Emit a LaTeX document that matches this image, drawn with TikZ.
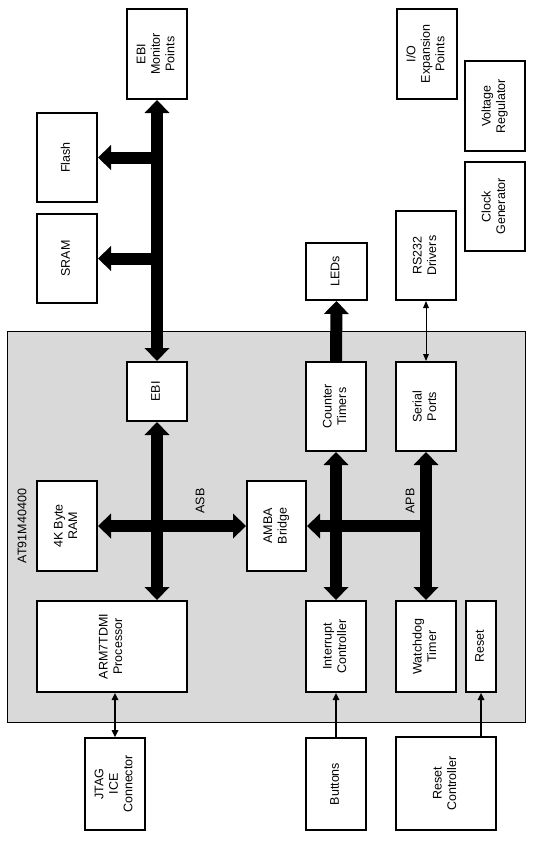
\documentclass[tikz,border=0pt]{standalone}
\usepackage{fontspec}
\setmainfont{Liberation Sans}
\usetikzlibrary{arrows.meta}
\newcommand{\vtext}[1]{\rotatebox{90}{\begin{tabular}{@{}c@{}}#1\end{tabular}}}
\begin{document}
\begin{tikzpicture}%
	[x=1pt, y=-1pt,
	every node/.style={font=\fontsize{12.5}{14.5}\selectfont},
	box/.style={draw=black, line width=2pt, fill=white, inner sep=0pt},
	chip/.style={draw=black, line width=0.8pt, fill=black!15, inner sep=0pt},
	bus/.style={line width=12pt, >={Triangle[width=25pt,length=13pt,line width=0pt]}},
	wire/.style={line width=1.8pt, >={Triangle[width=7pt,length=7pt,line width=0pt]}},
	thinwire/.style={line width=1pt, >={Triangle[width=6pt,length=7pt,line width=0pt]}},
	buslabel/.style={rotate=90, inner sep=0pt}]
\useasboundingbox (0,0) rectangle (535,841);
%%
%% the chip
%%
\node[chip, minimum width=518, minimum height=391] (chip) at (266,526.5) {};
\node[buslabel] (chipname) at (22,526) {AT91M40400};
%%
%% blocks outside the chip
%%
\node[box, minimum width=60, minimum height=90] (monitor) at (157,54) {\vtext{EBI\\Monitor\\Points}};
\node[box, minimum width=60, minimum height=89] (flash) at (67,157.5) {\vtext{Flash}};
\node[box, minimum width=60, minimum height=89] (sram) at (67,258.5) {\vtext{SRAM}};
\node[box, minimum width=60, minimum height=90] (io) at (427,54) {\vtext{I/O\\Expansion\\Points}};
\node[box, minimum width=60, minimum height=90] (volt) at (495,106) {\vtext{Voltage\\Regulator}};
\node[box, minimum width=60, minimum height=89] (clock) at (495,206.5) {\vtext{Clock\\Generator}};
\node[box, minimum width=60, minimum height=89] (rs232) at (426,255.5) {\vtext{RS232\\Drivers}};
\node[box, minimum width=61, minimum height=57] (leds) at (336.5,271.5) {\vtext{LEDs}};
\node[box, minimum width=60, minimum height=92] (jtag) at (115,784) {\vtext{JTAG\\ICE\\Connector}};
\node[box, minimum width=60, minimum height=92] (buttons) at (336,784) {\vtext{Buttons}};
\node[box, minimum width=100, minimum height=93] (resetctl) at (446,783.5) {\vtext{Reset\\Controller}};
%%
%% blocks inside the chip
%%
\node[box, minimum width=60, minimum height=59] (ebi) at (157,391.5) {\vtext{EBI}};
\node[box, minimum width=60, minimum height=89] (counter) at (336,406.5) {\vtext{Counter\\Timers}};
\node[box, minimum width=60, minimum height=89] (serial) at (426,406.5) {\vtext{Serial\\Ports}};
\node[box, minimum width=60, minimum height=90] (ram) at (67,526) {\vtext{4K Byte\\RAM}};
\node[box, minimum width=59, minimum height=90] (amba) at (276.5,526) {\vtext{AMBA\\Bridge}};
\node[box, minimum width=150, minimum height=91] (arm) at (112,646.5) {\vtext{ARM7TDMI\\Processor}};
\node[box, minimum width=60, minimum height=91] (intc) at (336,646.5) {\vtext{Interrupt\\Controller}};
\node[box, minimum width=60, minimum height=91] (wdog) at (426,646.5) {\vtext{Watchdog\\Timer}};
\node[box, minimum width=30, minimum height=91] (reset) at (481,646.5) {\vtext{Reset}};
%%
%% busses
%%
\draw[bus,<->] (ebi.north) -- (monitor.south);
\draw[bus,->] (ebi.north |- flash.east) -- (flash.east);
\draw[bus,->] (ebi.north |- sram.east) -- (sram.east);
\draw[bus,<->] (ebi.south) -- (ebi.south |- arm.north);
\draw[bus,<->] (ram.east) -- (amba.west);
\draw[bus,->] (serial.south |- amba.east) -- (amba.east);
\draw[bus,<->] (counter.south) -- (intc.north);
\draw[bus,<->] (serial.south) -- (wdog.north);
\draw[bus,->] (counter.north) -- (leds.south);
\node[buslabel] (asb) at (200,501) {ASB};
\node[buslabel] (apb) at (410,501) {APB};
%%
%% single wires
%%
\draw[thinwire,<->] (serial.north) -- (rs232.south);
\draw[wire,<->] (jtag.north) -- (jtag.north |- arm.south);
\draw[wire,->] (buttons.north) -- (intc.south);
\draw[wire,->] (reset.south |- resetctl.north) -- (reset.south);
\end{tikzpicture}
\end{document}
